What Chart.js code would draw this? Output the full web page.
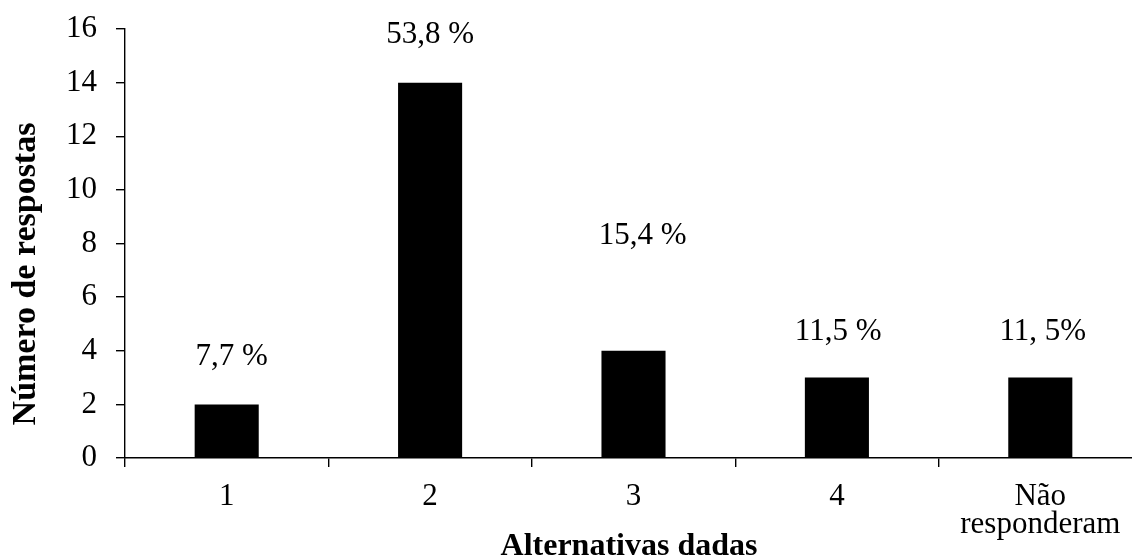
<!DOCTYPE html>
<html>
<head>
<meta charset="utf-8">
<script src="https://cdn.jsdelivr.net/npm/chart.js@4"></script>
<style>
  html, body { margin: 0; padding: 0; background: #fff; overflow: hidden; }
  #wrap { width: 1150px; height: 557px; }
</style>
</head>
<body>
<div id="wrap"><canvas id="c" width="1150" height="557"></canvas></div>
<script>
// ---- data ----
const categories = ['1', '2', '3', '4', ['Não', 'responderam']];
const counts = [2, 14, 4, 3, 3];
const percentLabels = ['7,7 %', '53,8 %', '15,4 %', '11,5 %', '11, 5%'];
const percentLabelLevels = [3.76, 15.79, 8.29, 4.69, 4.69];   // height (in responses) where each label sits
const percentLabelShift = [0.025, 0, 0.045, 0.006, 0.012];     // small horizontal shift, in categories
const yMin = 0, yMax = 16, yStep = 2;
const xTitle = 'Alternativas dadas';
const yTitle = 'Número de respostas';

const FONT = "'Times New Roman', 'Liberation Serif', serif";

const freeText = {
  id: 'freeText',
  afterDraw(chart) {
    const ctx = chart.ctx;
    const xs = chart.scales.x, ys = chart.scales.y;
    ctx.save();
    ctx.fillStyle = '#000';
    ctx.font = '31px ' + FONT;
    ctx.textAlign = 'center';
    ctx.textBaseline = 'middle';
    percentLabels.forEach((t, i) => {
      const x = xs.getPixelForValue(i + percentLabelShift[i]);
      const y = ys.getPixelForValue(percentLabelLevels[i]);
      ctx.fillText(t, x, y);
    });
    // axis titles
    ctx.textBaseline = 'alphabetic';
    ctx.font = 'bold 32px ' + FONT;
    ctx.fillText(xTitle, 629, 555);
    ctx.font = 'bold 34px ' + FONT;
    ctx.translate(35, 274);
    ctx.rotate(-Math.PI / 2);
    ctx.fillText(yTitle, 0, 0);
    ctx.restore();
  }
};

new Chart(document.getElementById('c'), {
  type: 'bar',
  data: {
    labels: categories,
    datasets: [{
      data: counts,
      backgroundColor: '#000',
      borderWidth: 0,
      categoryPercentage: 1,
      barPercentage: 0.315
    }]
  },
  options: {
    responsive: false,
    animation: false,
    events: [],
    layout: { padding: { top: 29, right: 8, left: 0, bottom: 0 } },
    plugins: { legend: { display: false }, tooltip: { enabled: false } },
    scales: {
      x: {
        grid: { drawOnChartArea: false, drawTicks: true, tickLength: 9, color: '#000', lineWidth: 1.4, offset: true },
        border: { display: true, color: '#000', width: 1.4 },
        ticks: { color: '#000', font: { family: FONT, size: 31, lineHeight: 0.9 }, padding: 16, maxRotation: 0, autoSkip: false },
        afterFit(s) { s.height = 99; s.paddingLeft = 0; s.paddingRight = 0; }
      },
      y: {
        min: yMin, max: yMax,
        grid: { drawOnChartArea: false, drawTicks: true, tickLength: 9, color: '#000', lineWidth: 1.4 },
        border: { display: true, color: '#000', width: 1.4 },
        ticks: { stepSize: yStep, color: '#000', font: { family: FONT, size: 31 }, padding: 19 },
        afterFit(s) { s.width = 125; s.paddingTop = 0; s.paddingBottom = 0; }
      }
    }
  },
  plugins: [freeText]
});
</script>
</body>
</html>
